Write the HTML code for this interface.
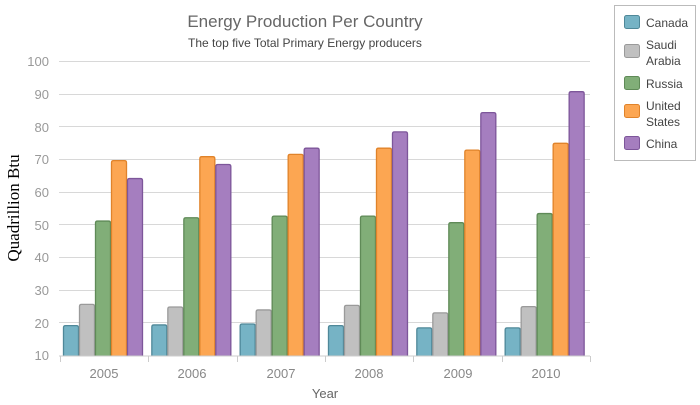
<!DOCTYPE html>
<html><head><meta charset="utf-8"><style>
body{margin:0;background:#fff;}
svg{display:block;font-family:"Liberation Sans",sans-serif;}
</style></head><body>
<svg id="s" width="700" height="405" xmlns="http://www.w3.org/2000/svg">
<text x="305" y="27" text-anchor="middle" font-size="17" fill="#666">Energy Production Per Country</text>
<text x="305" y="47" text-anchor="middle" font-size="12" fill="#444">The top five Total Primary Energy producers</text>
<g id="grid" stroke="#d8d8d8" stroke-width="1"></g>
<g font-size="13" fill="#999" text-anchor="end">
<text x="49" y="66">100</text><text x="49" y="99">90</text><text x="49" y="132">80</text><text x="49" y="164">70</text><text x="49" y="197">60</text><text x="49" y="230">50</text><text x="49" y="262">40</text><text x="49" y="295">30</text><text x="49" y="328">20</text><text x="49" y="360">10</text>
</g>
<text transform="translate(19,208) rotate(-90)" text-anchor="middle" font-size="17" font-family="Liberation Serif,serif" fill="#000">Quadrillion Btu</text>
<g font-size="13" fill="#888" text-anchor="middle">
<text x="104" y="378">2005</text><text x="192" y="378">2006</text><text x="281" y="378">2007</text><text x="369" y="378">2008</text><text x="458" y="378">2009</text><text x="546" y="378">2010</text>
</g>
<text x="325" y="398" text-anchor="middle" font-size="13" fill="#666">Year</text>
<g id="bars"></g>
<line x1="59" y1="356" x2="590" y2="356" stroke="#ccc"/>
<g id="ticks" stroke="#ccc"></g>
<rect x="614.5" y="5.5" width="81" height="155" fill="#fff" stroke="#bbb"/>
<g font-size="12" fill="#444">
<rect x="624.5" y="15.5" width="15" height="13" rx="2" fill="#76b3c5" stroke="#4f8899"/><text x="646" y="27">Canada</text>
<rect x="624.5" y="44.5" width="15" height="13" rx="2" fill="#c0c0c0" stroke="#9a9a9a"/><text x="646" y="49">Saudi</text><text x="646" y="65">Arabia</text>
<rect x="624.5" y="76.5" width="15" height="13" rx="2" fill="#81ae78" stroke="#5f8a57"/><text x="646" y="88">Russia</text>
<rect x="624.5" y="104.5" width="15" height="13" rx="2" fill="#fca652" stroke="#e0832a"/><text x="646" y="110">United</text><text x="646" y="126">States</text>
<rect x="624.5" y="136.5" width="15" height="13" rx="2" fill="#a57ebf" stroke="#7d569a"/><text x="646" y="148">China</text>
</g>
</svg>
<script>
var ns="http://www.w3.org/2000/svg";
function y(v){return 355-(v-10)*32.67/10;}
var g=document.getElementById("grid");
for(var v=20;v<=100;v+=10){var l=document.createElementNS(ns,"line");l.setAttribute("x1",59);l.setAttribute("x2",590);l.setAttribute("y1",Math.round(y(v))+.5);l.setAttribute("y2",Math.round(y(v))+.5);g.appendChild(l);}
var t=document.getElementById("ticks");
for(var i=0;i<=6;i++){var x=Math.round(60+i*88.33)+.5;var l=document.createElementNS(ns,"line");l.setAttribute("x1",x);l.setAttribute("x2",x);l.setAttribute("y1",356);l.setAttribute("y2",362);t.appendChild(l);}
var data=[[19,25.5,51,69.5,64],[19.2,24.7,52,70.7,68.3],[19.5,23.8,52.5,71.4,73.3],[19,25.2,52.5,73.3,78.3],[18.3,22.9,50.5,72.7,84.2],[18.3,24.8,53.3,74.8,90.6]];
var fill=["#76b3c5","#c0c0c0","#81ae78","#fca652","#a57ebf"],st=["#4f8899","#9a9a9a","#5f8a57","#e0832a","#7d569a"];
var b=document.getElementById("bars");
data.forEach(function(d,i){d.forEach(function(v,j){var x=63.5+i*88.33+j*16;var yy=y(v);
var p=document.createElementNS(ns,"path");
p.setAttribute("d","M"+x+",356 V"+(yy+2)+" Q"+x+","+yy+" "+(x+2)+","+yy+" H"+(x+13)+" Q"+(x+15)+","+yy+" "+(x+15)+","+(yy+2)+" V356");
p.setAttribute("fill",fill[j]);p.setAttribute("stroke",st[j]);p.setAttribute("stroke-width","1.3");b.appendChild(p);});});
</script>
</body></html>
